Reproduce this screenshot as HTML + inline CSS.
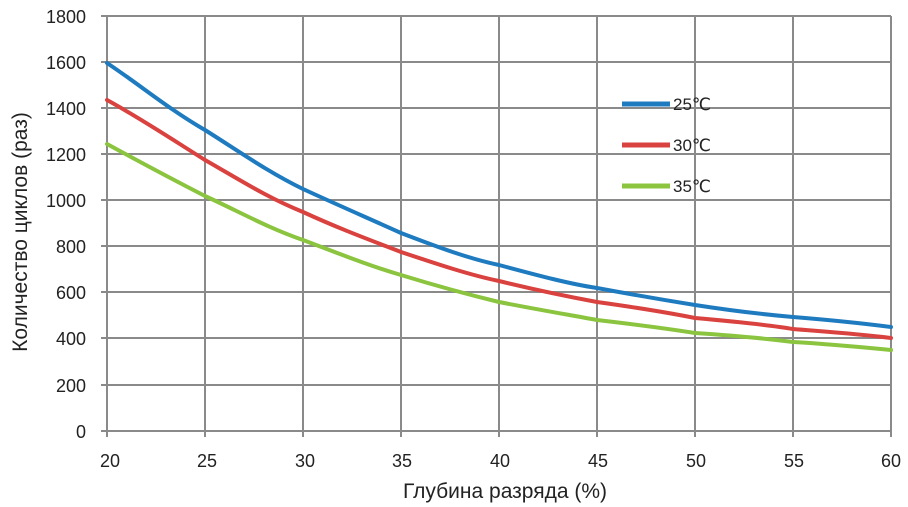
<!DOCTYPE html>
<html><head><meta charset="utf-8"><style>body{margin:0;background:#fff}svg{display:block}text{font-family:"Liberation Sans","DejaVu Sans",sans-serif;fill:#222}</style></head><body>
<svg width="908" height="507" viewBox="0 0 908 507">
<g stroke="#8a8a8a" stroke-width="2">
<line x1="107" y1="16" x2="891" y2="16"/><line x1="107" y1="62" x2="891" y2="62"/><line x1="107" y1="108" x2="891" y2="108"/><line x1="107" y1="154" x2="891" y2="154"/><line x1="107" y1="200" x2="891" y2="200"/><line x1="107" y1="246" x2="891" y2="246"/><line x1="107" y1="292" x2="891" y2="292"/><line x1="107" y1="338" x2="891" y2="338"/><line x1="107" y1="385" x2="891" y2="385"/><line x1="101" y1="431" x2="891" y2="431"/>
<line x1="107" y1="16" x2="107" y2="437"/><line x1="205" y1="16" x2="205" y2="437"/><line x1="303" y1="16" x2="303" y2="437"/><line x1="401" y1="16" x2="401" y2="437"/><line x1="499" y1="16" x2="499" y2="437"/><line x1="597" y1="16" x2="597" y2="437"/><line x1="695" y1="16" x2="695" y2="437"/><line x1="793" y1="16" x2="793" y2="437"/><line x1="891" y1="16" x2="891" y2="437"/>
<line x1="101" y1="16" x2="107" y2="16"/><line x1="101" y1="62" x2="107" y2="62"/><line x1="101" y1="108" x2="107" y2="108"/><line x1="101" y1="154" x2="107" y2="154"/><line x1="101" y1="200" x2="107" y2="200"/><line x1="101" y1="246" x2="107" y2="246"/><line x1="101" y1="292" x2="107" y2="292"/><line x1="101" y1="338" x2="107" y2="338"/><line x1="101" y1="385" x2="107" y2="385"/>
</g>
<g fill="none" stroke-width="4" stroke-linecap="round">
<path stroke="#1f7bbf" d="M107,63 C140,85 170,110 205,130 C240,152 268,172 303,189 C340,206 370,219 401,233 C440,248 470,259 499,265 C540,276 570,284 597,288 C640,296 670,301 695,305 C740,312 770,315 793,317 C830,320 860,323 891,327"/>
<path stroke="#d9423f" d="M107,100 C140,118 170,138 205,160 C240,180 268,198 303,212 C340,229 370,240 401,252 C440,265 470,275 499,281 C540,291 570,297 597,302 C640,308 670,313 695,318 C740,322 770,325 793,329 C830,332 860,334 891,338"/>
<path stroke="#8bc43f" d="M107,144 C140,162 170,178 205,196 C240,212 268,228 303,240 C340,254 370,266 401,275 C440,287 470,295 499,302 C540,310 570,315 597,320 C640,325 670,329 695,333 C740,336 770,339 793,342 C830,344 860,347 891,350"/>
</g>
<g stroke-width="5"><line x1="622" y1="104" x2="670" y2="104" stroke="#1f7bbf"/><line x1="622" y1="145" x2="670" y2="145" stroke="#d9423f"/><line x1="622" y1="186" x2="670" y2="186" stroke="#8bc43f"/></g>
<g font-size="17"><text x="673" y="110">25℃</text><text x="673" y="151">30℃</text><text x="673" y="192">35℃</text></g>
<g font-size="18" text-anchor="end"><text x="86" y="23">1800</text><text x="86" y="69">1600</text><text x="86" y="115">1400</text><text x="86" y="161">1200</text><text x="86" y="207">1000</text><text x="86" y="253">800</text><text x="86" y="299">600</text><text x="86" y="345">400</text><text x="86" y="392">200</text><text x="86" y="438">0</text></g>
<g font-size="18" text-anchor="middle"><text x="110" y="467">20</text><text x="207" y="467">25</text><text x="305" y="467">30</text><text x="402" y="467">35</text><text x="500" y="467">40</text><text x="598" y="467">45</text><text x="696" y="467">50</text><text x="794" y="467">55</text><text x="891" y="467">60</text></g>
<text x="505" y="498" font-size="21" text-anchor="middle">Глубина разряда (%)</text>
<text transform="translate(27,232) rotate(-90)" font-size="21" text-anchor="middle">Количество циклов (раз)</text>
</svg>
</body></html>
